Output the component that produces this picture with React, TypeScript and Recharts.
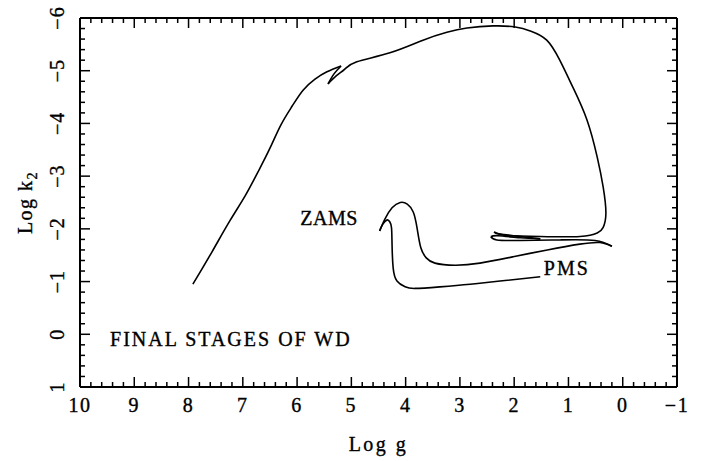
import React from 'react';
import { LineChart, Line, XAxis, YAxis, ReferenceDot } from 'recharts';

// evolutionary track, in order: PMS -> ZAMS -> ... -> final WD stages
const trackLogG = [
  1.52, 2.26, 2.81, 3.37, 3.83, 4.01, 4.16, 4.23, 4.25, 4.26, 4.29, 4.34, 4.42, 4.48,
  4.38, 4.25, 4.10, 3.97, 3.86, 3.79, 3.72, 3.62, 3.46, 3.09, 2.63, 2.02, 1.39, 0.79, 0.42, 0.20,
  0.51, 1.16, 1.89, 2.32, 2.43,
  2.30, 1.89, 1.52,
  1.89, 2.26, 2.37,
  2.17, 1.52, 0.79, 0.47, 0.36, 0.31, 0.36, 0.47, 0.66, 0.92, 1.16, 1.40, 1.69,
  1.98, 2.39, 2.87, 3.24, 3.68, 4.29, 4.90, 5.12, 5.28, 5.43,
  5.32, 5.19,
  5.45, 5.67, 5.89, 6.09, 6.30, 6.50, 6.72, 6.96, 7.24, 7.57, 7.92
];
const trackLogK2 = [
  -1.09, -1.01, -0.95, -0.90, -0.87, -0.90, -1.01, -1.26, -1.69, -2.02, -2.13, -2.17, -2.09, -1.96,
  -2.19, -2.40, -2.50, -2.47, -2.32, -2.02, -1.64, -1.45, -1.35, -1.31, -1.35, -1.47, -1.60, -1.71, -1.74, -1.67,
  -1.78, -1.79, -1.78, -1.79, -1.85,
  -1.87, -1.83, -1.81,
  -1.855, -1.90, -1.94,
  -1.88, -1.855, -1.855, -1.92, -2.03, -2.30, -2.79, -3.36, -4.07, -4.69, -5.20, -5.58, -5.75,
  -5.83, -5.85, -5.81, -5.73, -5.58, -5.34, -5.17, -5.03, -4.90, -4.75,
  -4.94, -5.09,
  -4.98, -4.84, -4.63, -4.33, -3.97, -3.53, -3.08, -2.62, -2.15, -1.56, -0.95
];
// indices where the track turns back sharply
const turnPoints = [13, 29, 34, 37, 40, 63, 65];

const xMajorTicks = [10, 9, 8, 7, 6, 5, 4, 3, 2, 1, 0, -1];
const yMajorTicks = [-6, -5, -4, -3, -2, -1, 0, 1];

const noteTexts = ['ZAMS', 'PMS', 'FINAL STAGES OF WD'];
const noteLogG = [5.41, 1.03, 7.22];
const noteLogK2 = [-2.2, -1.25, 0.09];

const FONT = '"Liberation Serif", "Times New Roman", serif';

const withMinor = (majors: number[]) => {
  const lo = Math.min(...majors);
  const hi = Math.max(...majors);
  const out: number[] = [];
  for (let i = 0; i <= Math.round((hi - lo) * 5); i++) out.push(Math.round((lo + i * 0.2) * 10) / 10);
  return out;
};
const isMajor = (v: number) => Math.abs(v - Math.round(v)) < 1e-6;
const fmt = (v: number) => (v < 0 ? '\u2212' + Math.abs(v) : String(v));

const xTicks = withMinor(xMajorTicks);
const yTicks = withMinor(yMajorTicks);

const bounds = [0, ...turnPoints, trackLogG.length - 1];
const segments = bounds.slice(1).map((end, i) => {
  const pts: { g: number; k2: number }[] = [];
  for (let k = bounds[i]; k <= end; k++) pts.push({ g: trackLogG[k], k2: trackLogK2[k] });
  return pts;
});

const textStyle = { fontFamily: FONT, fontSize: 20, fill: '#000', stroke: '#000', strokeWidth: 0.35 };

const BottomTick = (props: any) => {
  const { x, y, payload } = props;
  const major = isMajor(payload.value);
  return (
    <g>
      <line x1={x} x2={x} y1={y} y2={y - (major ? 10 : 5)} stroke="#000" strokeWidth={1.5} />
      {major && (
        <text x={x} y={y + 18} textAnchor="middle" dominantBaseline="central" letterSpacing={1.5} style={textStyle}>
          {fmt(payload.value)}
        </text>
      )}
    </g>
  );
};

const TopTick = (props: any) => {
  const { x, y, payload } = props;
  const major = isMajor(payload.value);
  return <line x1={x} x2={x} y1={y} y2={y + (major ? 10 : 5)} stroke="#000" strokeWidth={1.5} />;
};

const LeftTick = (props: any) => {
  const { x, y, payload } = props;
  const major = isMajor(payload.value);
  return (
    <g>
      <line x1={x} x2={x + (major ? 10 : 5)} y1={y} y2={y} stroke="#000" strokeWidth={1.5} />
      {major && (
        <text
          x={x - 23}
          y={y}
          transform={`rotate(-90, ${x - 23}, ${y})`}
          textAnchor="middle"
          dominantBaseline="central"
          letterSpacing={1}
          style={textStyle}
        >
          {fmt(payload.value)}
        </text>
      )}
    </g>
  );
};

const RightTick = (props: any) => {
  const { x, y, payload } = props;
  const major = isMajor(payload.value);
  return <line x1={x} x2={x - (major ? 10 : 5)} y1={y} y2={y} stroke="#000" strokeWidth={1.5} />;
};

const Note = (props: any) => {
  const { viewBox, text } = props;
  return (
    <text
      x={viewBox.x + viewBox.width / 2}
      y={viewBox.y + viewBox.height / 2}
      textAnchor="middle"
      dominantBaseline="central"
      letterSpacing={text === 'ZAMS' ? 0.5 : 2}
      style={textStyle}
    >
      {text}
    </text>
  );
};

const axisLine = { stroke: '#000', strokeWidth: 2 };

export default function App() {
  return (
    <div style={{ position: 'absolute', left: 0, top: 0, width: 712, height: 461, background: '#fff' }}>
      <LineChart width={712} height={461} margin={{ top: 0, right: 0, bottom: 0, left: 0 }}>
        <XAxis
          xAxisId="bottom"
          dataKey="g"
          type="number"
          domain={[-1, 10]}
          reversed
          allowDataOverflow
          ticks={xTicks}
          interval={0}
          tickLine={false}
          tickSize={0}
          tickMargin={0}
          axisLine={axisLine}
          height={74}
          tick={<BottomTick />}
          label={(p: any) => (
            <text
              x={p.viewBox.x + p.viewBox.width / 2}
              y={p.viewBox.y + 64}
              textAnchor="middle"
              letterSpacing={2.5}
              style={textStyle}
            >
              Log g
            </text>
          )}
        />
        <XAxis
          xAxisId="top"
          orientation="top"
          dataKey="g"
          type="number"
          domain={[-1, 10]}
          reversed
          allowDataOverflow
          ticks={xTicks}
          interval={0}
          tickLine={false}
          tickSize={0}
          tickMargin={0}
          axisLine={axisLine}
          height={18}
          tick={<TopTick />}
        />
        <YAxis
          yAxisId="left"
          type="number"
          domain={[-6, 1]}
          reversed
          allowDataOverflow
          ticks={yTicks}
          interval={0}
          tickLine={false}
          tickSize={0}
          tickMargin={0}
          axisLine={axisLine}
          width={80}
          tick={<LeftTick />}
          label={(p: any) => {
            const cx = 32;
            const cy = p.viewBox.y + p.viewBox.height / 2;
            return (
              <text
                x={cx}
                y={cy}
                transform={`rotate(-90, ${cx}, ${cy})`}
                textAnchor="middle"
                letterSpacing={1.5}
                style={textStyle}
              >
                Log k
                <tspan fontSize={14} dy={5}>2</tspan>
              </text>
            );
          }}
        />
        <YAxis
          yAxisId="right"
          orientation="right"
          type="number"
          domain={[-6, 1]}
          reversed
          allowDataOverflow
          ticks={yTicks}
          interval={0}
          tickLine={false}
          tickSize={0}
          tickMargin={0}
          axisLine={axisLine}
          width={35}
          tick={<RightTick />}
        />
        {segments.map((seg, i) => (
          <Line
            key={i}
            data={seg}
            dataKey="k2"
            xAxisId="bottom"
            yAxisId="left"
            type="natural"
            stroke="#000"
            strokeWidth={1.6}
            dot={false}
            activeDot={false}
            isAnimationActive={false}
          />
        ))}
        {noteTexts.map((t, i) => (
          <ReferenceDot
            key={t}
            xAxisId="bottom"
            yAxisId="left"
            x={noteLogG[i]}
            y={noteLogK2[i]}
            r={0}
            fill="none"
            stroke="none"
            label={<Note text={t} />}
          />
        ))}
      </LineChart>
    </div>
  );
}
